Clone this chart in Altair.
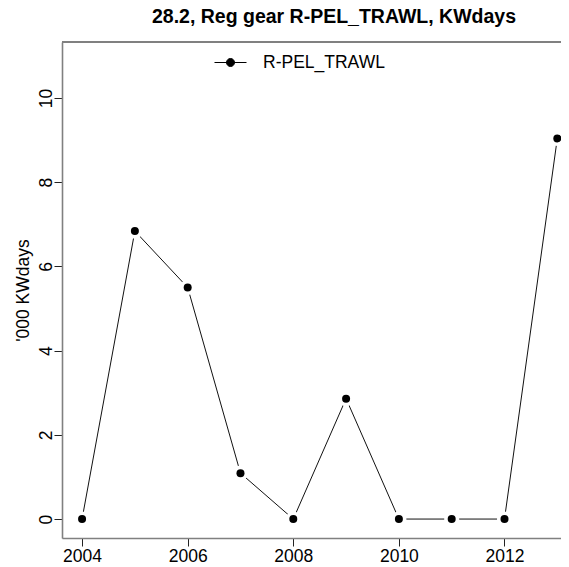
import altair as alt
import pandas as pd

years = [2004, 2005, 2006, 2007, 2008, 2009, 2010, 2011, 2012, 2013]
kwdays = [0.0, 6.84, 5.50, 1.09, 0.0, 2.86, 0.0, 0.0, 0.0, 9.04]
series = ["R-PEL_TRAWL"] * len(years)
x_ticks = [2004, 2006, 2008, 2010, 2012]
y_ticks = [0, 2, 4, 6, 8, 10]
title_text = "28.2, Reg gear R-PEL_TRAWL, KWdays"

df = pd.DataFrame({"year": years, "kw": kwdays, "gear": series})

FONT = "Liberation Sans"
W, H = 499, 496
BOX = "#808080"

x = alt.X("year:Q", scale=alt.Scale(domain=[2003.62, 2013.07], nice=False, zero=False),
          axis=alt.Axis(values=x_ticks, format="d", title=None, grid=False,
                        domainColor=BOX, domainWidth=1.6,
                        tickSize=8, tickColor="#222", tickWidth=1, labelPadding=1,
                        labelFontSize=17.5, labelFont=FONT, labelColor="#000",
                        labelBaseline="top", labelFlush=False))
y = alt.Y("kw:Q", scale=alt.Scale(domain=[-0.45, 11.33], nice=False, zero=False),
          axis=alt.Axis(values=y_ticks, title="'000 KWdays", grid=False,
                        domainColor=BOX, domainWidth=1.6,
                        tickSize=8, tickColor="#222", tickWidth=1, labelPadding=3,
                        labelAngle=-90, labelAlign="center", labelBaseline="alphabetic",
                        labelFontSize=17.5, labelFont=FONT, labelColor="#000",
                        titleFontSize=17.5, titleFont=FONT, titleFontWeight="normal",
                        titleColor="#000", titleAngle=-90, titleBaseline="alphabetic",
                        titleAlign="center", titleX=-34, titleY=H / 2,
                        labelFlush=False))

base = alt.Chart(df)

top_border = base.mark_rule(color=BOX, strokeWidth=1.6).encode(
    x=alt.value(0), x2=alt.value(W), y=alt.value(0))
title = alt.Chart(pd.DataFrame({"t": [title_text]})).mark_text(
    font=FONT, fontSize=19.5, fontWeight="bold", color="#000",
    align="center", baseline="alphabetic").encode(
    text="t:N", x=alt.value(272), y=alt.value(-19.5))
line = base.mark_line(strokeWidth=1, color="#111").encode(x=x, y=y)
halo = base.mark_point(filled=True, size=230, opacity=1, color="white").encode(x=x, y=y)
pts = base.mark_point(filled=True, size=64, opacity=1).encode(
    x=x, y=y,
    color=alt.Color("gear:N", scale=alt.Scale(range=["#000000"]), title=None,
                    legend=alt.Legend(orient="none", legendX=152, legendY=4, padding=0,
                                      symbolType="M-1,0L1,0M-0.25,0A0.25,0.25,0,1,1,0.25,0A0.25,0.25,0,1,1,-0.25,0Z",
                                      symbolSize=1024, symbolFillColor="#000",
                                      symbolStrokeColor="#000", symbolStrokeWidth=1,
                                      labelFontSize=17.5, labelFont=FONT, labelColor="#000",
                                      labelOffset=16)))

chart = alt.layer(line, halo, pts, top_border, title).properties(
    width=W, height=H,
    autosize=alt.AutoSizeParams(type="none"),
    padding={"left": 54, "top": 34, "right": 0, "bottom": 26},
).configure_view(stroke=None).configure(background="white")

chart.save("out.html", embed_options={"renderer": "svg", "actions": False})
